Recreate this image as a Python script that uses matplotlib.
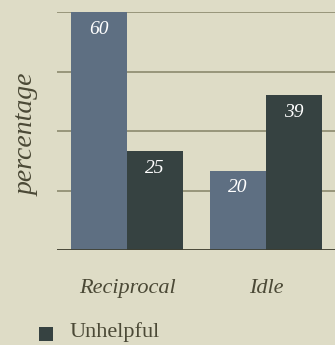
import numpy as np
import matplotlib as mpl
mpl.use("Agg")
import matplotlib.pyplot as plt
from matplotlib.patches import Rectangle

#-----------------------------------------------------------------------------
# data
groups = ["Reciprocal", "Idle"]
helpful = [60, 20]
unhelpful = [25, 39]
series_names = ["Helpful", "Unhelpful"]

bg = "#dedcc6"
c_help = "#5e6f82"
c_unhelp = "#364241"
c_text = "#4b4936"
c_grid = "#858366"
serif = "Liberation Serif"

fig = plt.figure(figsize=(3.35, 3.45), dpi=100, facecolor=bg)
W, H = 335, 345
ax = fig.add_axes([57/W, 95/H, 1 - 57/W, (250 - 12)/H])
ax.set_facecolor(bg)

x = np.arange(len(groups))
bw = 56/139
ax.bar(x - bw/2, helpful, bw, color=c_help, zorder=3, label=series_names[0])
ax.bar(x + bw/2, unhelpful, bw, color=c_unhelp, zorder=3, label=series_names[1])

# value labels, white italic near the top of each bar
for xs, vals in ((x - bw/2, helpful), (x + bw/2, unhelpful)):
    for xi, v in zip(xs, vals):
        ax.text(xi, v - 2.2, str(v), ha="center", va="top", color="white",
                fontsize=14, style="italic", family=serif, zorder=4)

ax.set_xlim(-70/139, 1 + 69/139)
ax.set_ylim(0, 60)
ax.set_yticks([0, 15, 30, 45, 60])
ax.yaxis.grid(True, color=c_grid, lw=1.1, zorder=1)
ax.tick_params(axis="y", length=0, labelleft=False)
ax.axhline(0, color="#3e3e30", lw=1.2, zorder=5)
for s in ax.spines.values():
    s.set_visible(False)

ax.set_xticks(x)
ax.set_xticklabels(groups, fontsize=16, style="italic", family=serif, color=c_text)
ax.tick_params(axis="x", length=0, pad=21)

fig.text(27/W, 1 - 135/H, "percentage", rotation=90, ha="center", va="center",
         fontsize=20, style="italic", family=serif, color=c_text)

# legend (only the visible entry)
fig.patches.append(Rectangle((39/W, 1 - 341/H), 14/W, 14/H, transform=fig.transFigure,
                             facecolor=c_unhelp, edgecolor="none", figure=fig))
fig.text(70/W, 1 - 332/H, series_names[1], ha="left", va="center",
         fontsize=16, family=serif, color=c_text)

fig.savefig("out.png", dpi=100, facecolor=bg)
